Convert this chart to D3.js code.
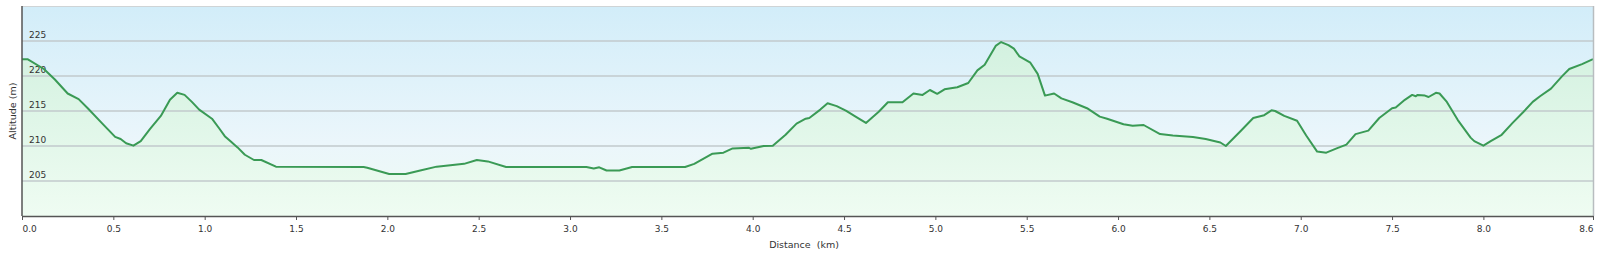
<!DOCTYPE html>
<html>
<head>
<meta charset="utf-8">
<script src="https://cdn.jsdelivr.net/npm/d3@7"></script>
<style>
  body { margin: 0; background: #fff; }
  svg text { font-family: "DejaVu Sans", Verdana, sans-serif; fill: #333; }
</style>
</head>
<body>
<svg id="chart" width="1600" height="255"></svg>
<script>
'use strict'

// elevation profile
var distanceKm = [
  0.00, 0.03, 0.12, 0.18, 0.25, 0.31, 0.36, 0.44, 0.51, 0.54,
  0.57, 0.61, 0.65, 0.70, 0.76, 0.81, 0.85, 0.89, 0.93, 0.97,
  1.04, 1.08, 1.11, 1.14, 1.18, 1.22, 1.27, 1.31, 1.39, 1.87,
  1.89, 2.01, 2.10, 2.18, 2.27, 2.42, 2.49, 2.55, 2.65, 3.09,
  3.13, 3.16, 3.20, 3.27, 3.34, 3.63, 3.68, 3.78, 3.84, 3.89,
  3.98, 3.99, 4.06, 4.11, 4.18, 4.24, 4.29, 4.31, 4.37, 4.41,
  4.46, 4.51, 4.57, 4.62, 4.69, 4.74, 4.82, 4.88, 4.93, 4.97,
  5.01, 5.05, 5.12, 5.18, 5.23, 5.27, 5.33, 5.36, 5.40, 5.43,
  5.46, 5.52, 5.56, 5.60, 5.65, 5.69, 5.75, 5.83, 5.90, 5.94,
  6.03, 6.08, 6.14, 6.23, 6.30, 6.41, 6.48, 6.56, 6.59, 6.67,
  6.74, 6.80, 6.84, 6.86, 6.91, 6.98, 7.03, 7.09, 7.14, 7.20,
  7.25, 7.30, 7.37, 7.43, 7.50, 7.52, 7.57, 7.61, 7.63, 7.64,
  7.68, 7.70, 7.74, 7.76, 7.80, 7.86, 7.93, 7.95, 8.00, 8.04,
  8.10, 8.16, 8.22, 8.27, 8.31, 8.37, 8.43, 8.47, 8.54, 8.60
];

var altitudeM = [
  222.4, 222.4, 221.0, 219.5, 217.5, 216.7, 215.4, 213.2, 211.3, 211.0,
  210.4, 210.05, 210.7, 212.4, 214.3, 216.6, 217.6, 217.3, 216.3, 215.2,
  213.9, 212.5, 211.4, 210.7, 209.8, 208.75, 208.0, 208.0, 207.05, 207.0,
  206.9, 206.0, 206.0, 206.5, 207.05, 207.45, 208.0, 207.8, 207.0, 207.0,
  206.8, 206.95, 206.5, 206.5, 207.0, 207.0, 207.45, 208.9, 209.05, 209.65,
  209.75, 209.6, 210.0, 210.05, 211.6, 213.2, 213.9, 214.0, 215.2, 216.1,
  215.7, 215.05, 214.1, 213.3, 214.9, 216.25, 216.25, 217.5, 217.3, 218.0,
  217.45, 218.1, 218.4, 219.0, 220.8, 221.6, 224.3, 224.85, 224.4, 223.9,
  222.8, 221.9, 220.3, 217.2, 217.5, 216.8, 216.25, 215.4, 214.2, 213.9,
  213.1, 212.9, 213.0, 211.7, 211.5, 211.3, 211.0, 210.5, 210.0, 212.1,
  214.0, 214.4, 215.1, 215.0, 214.3, 213.6, 211.5, 209.2, 209.05, 209.7,
  210.2, 211.7, 212.2, 214.0, 215.4, 215.5, 216.6, 217.3, 217.1, 217.3,
  217.2, 217.0, 217.6, 217.5, 216.3, 213.7, 211.2, 210.7, 210.05, 210.7,
  211.6, 213.3, 214.9, 216.3, 217.1, 218.2, 219.95, 221.0, 221.7, 222.4
];

var xTicks = [0, 0.5, 1, 1.5, 2, 2.5, 3, 3.5, 4, 4.5, 5, 5.5, 6, 6.5, 7, 7.5, 8, 8.6];
var yTicks = [205, 210, 215, 220, 225];

var plotL = 22, plotR = 1593, plotT = 6, plotB = 216;

var svg = d3.select("#chart");

var x = d3.scaleLinear().domain([0, 8.6]).range([plotL, plotR]);
var y = d3.scaleLinear().domain([200, 230]).range([plotB, plotT]);

var points = distanceKm.map(function(d, i) { return {d: d, a: altitudeM[i]}; });

var defs = svg.append("defs");

var bg = defs.append("linearGradient")
    .attr("id", "bg").attr("x1", 0).attr("y1", 0).attr("x2", 0).attr("y2", 1);
bg.append("stop").attr("offset", "0%").attr("stop-color", "#d2edf9");
bg.append("stop").attr("offset", "65%").attr("stop-color", "#ebf6fb");
bg.append("stop").attr("offset", "100%").attr("stop-color", "#eefbf3");

var fill = defs.append("linearGradient")
    .attr("id", "fill").attr("gradientUnits", "userSpaceOnUse")
    .attr("x1", 0).attr("y1", plotT).attr("x2", 0).attr("y2", plotB);
fill.append("stop").attr("offset", "0%").attr("stop-color", "#cdefdc");
fill.append("stop").attr("offset", "100%").attr("stop-color", "#effcf2");

// plot background + frame
svg.append("rect")
    .attr("x", plotL).attr("y", plotT)
    .attr("width", plotR - plotL).attr("height", plotB - plotT)
    .attr("fill", "url(#bg)");

svg.append("path")
    .datum(points)
    .attr("fill", "url(#fill)")
    .attr("d", d3.area()
      .x(function(p) { return x(p.d); })
      .y0(plotB)
      .y1(function(p) { return y(p.a); }));

svg.append("g")
  .selectAll("line")
  .data(yTicks)
  .enter().append("line")
    .attr("x1", plotL).attr("x2", plotR)
    .attr("y1", function(d) { return y(d); })
    .attr("y2", function(d) { return y(d); })
    .attr("stroke", "#c2cacd")
    .attr("stroke-width", 1.5);

svg.append("g")
  .selectAll("text")
  .data(yTicks)
  .enter().append("text")
    .attr("x", plotL + 7)
    .attr("y", function(d) { return y(d) - 3; })
    .attr("font-size", "9px")
    .text(function(d) { return d; });

svg.append("path")
    .datum(points)
    .attr("fill", "none")
    .attr("stroke", "#3a9a55")
    .attr("stroke-width", 2)
    .attr("stroke-linejoin", "round")
    .attr("d", d3.line()
      .x(function(p) { return x(p.d); })
      .y(function(p) { return y(p.a); }));

svg.append("line")
    .attr("x1", plotL).attr("x2", plotR).attr("y1", plotT + 0.5).attr("y2", plotT + 0.5)
    .attr("stroke", "#cfd4d6");
svg.append("line")
    .attr("x1", plotR + 0.5).attr("x2", plotR + 0.5).attr("y1", plotT).attr("y2", plotB)
    .attr("stroke", "#b8bdc0").attr("stroke-width", 1.5);
svg.append("line")
    .attr("x1", plotL).attr("x2", plotL).attr("y1", plotT).attr("y2", plotB)
    .attr("stroke", "#555").attr("stroke-width", 1.5);

var xAxis = svg.append("g")
    .attr("transform", "translate(0," + plotB + ")")
    .call(d3.axisBottom(x)
      .tickValues(xTicks)
      .tickFormat(d3.format(".1f"))
      .tickSize(4)
      .tickSizeOuter(0));

xAxis.attr("font-family", null);
xAxis.select(".domain").attr("stroke", "#555").attr("stroke-width", 1.5);
xAxis.selectAll(".tick line").attr("stroke", "#555");
xAxis.selectAll(".tick text")
    .attr("font-size", "9px")
    .attr("dy", "1em")
    .attr("text-anchor", function(d, i) {
      return i === 0 ? "start" : (i === xTicks.length - 1 ? "end" : "middle");
    });

svg.append("text")
    .attr("transform", "translate(16," + ((plotT + plotB) / 2) + ") rotate(-90)")
    .attr("text-anchor", "middle")
    .attr("font-size", "9.5px")
    .text("Altitude (m)");

svg.append("text")
    .attr("x", 804).attr("y", 248)
    .attr("text-anchor", "middle")
    .attr("font-size", "9.5px")
    .style("white-space", "pre")
    .text("Distance  (km)");
</script>
</body>
</html>
